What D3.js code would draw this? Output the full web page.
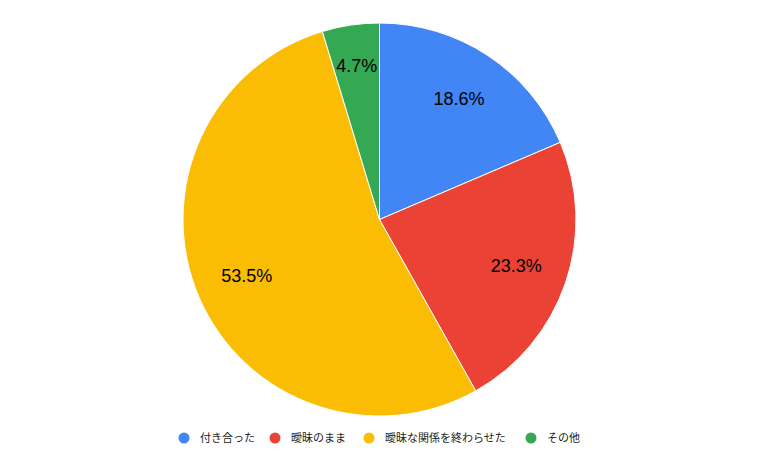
<!DOCTYPE html>
<html>
<head>
<meta charset="utf-8">
<script src="https://cdn.jsdelivr.net/npm/d3@7"></script>
<style>
  body { margin: 0; background: #fff; }
  svg { display: block; }
</style>
</head>
<body>
<div id="chart"></div>
<script>
const categories = ["付き合った", "曖昧のまま", "曖昧な関係を終わらせた", "その他"];
const values = [18.6, 23.3, 53.5, 4.7];
const colors = ["#4285f4", "#ea4335", "#fbbc04", "#34a853"];

const width = 759, height = 470;
const cx = 379.5, cy = 219.5, radius = 196.5;

const svg = d3.select('#chart').append('svg')
  .attr('width', width)
  .attr('height', height);

const pie = d3.pie().sort(null).value(d => d.value);
const data = pie(categories.map((c, i) => ({ name: c, value: values[i], color: colors[i] })));

const arc = d3.arc().innerRadius(0).outerRadius(radius);

// narrow slices get their label pushed a bit further out so the text fits
const labelPos = d => {
  const k = (d.endAngle - d.startAngle) < 0.35 ? 0.79 : 0.735;
  return d3.arc().innerRadius(radius * k).outerRadius(radius * k).centroid(d);
};

const g = svg.append('g').attr('transform', `translate(${cx}, ${cy})`);

g.selectAll('path')
  .data(data)
  .enter().append('path')
  .attr('d', arc)
  .attr('fill', d => d.data.color)
  .attr('stroke', '#fff')
  .attr('stroke-width', 1);

g.selectAll('text')
  .data(data)
  .enter().append('text')
  .attr('transform', d => `translate(${labelPos(d)})`)
  .attr('text-anchor', 'middle')
  .attr('dy', '0.35em')
  .style('font-family', 'Liberation Sans, Arial, sans-serif')
  .style('font-size', '18px')
  .attr('fill', '#000')
  .text(d => d.data.value.toFixed(1) + '%');

// legend
const legendX = [184, 275, 369, 531];
const legend = svg.append('g').attr('transform', 'translate(0, 438)');
categories.forEach((c, i) => {
  legend.append('circle')
    .attr('cx', legendX[i])
    .attr('cy', 0)
    .attr('r', 5.5)
    .attr('fill', colors[i]);
  legend.append('text')
    .attr('x', legendX[i] + 16)
    .attr('y', 0)
    .attr('dy', '0.35em')
    .style('font-family', '"Noto Sans CJK JP", sans-serif')
    .style('font-size', '11px')
    .attr('fill', '#222')
    .text(c);
});
</script>
</body>
</html>
